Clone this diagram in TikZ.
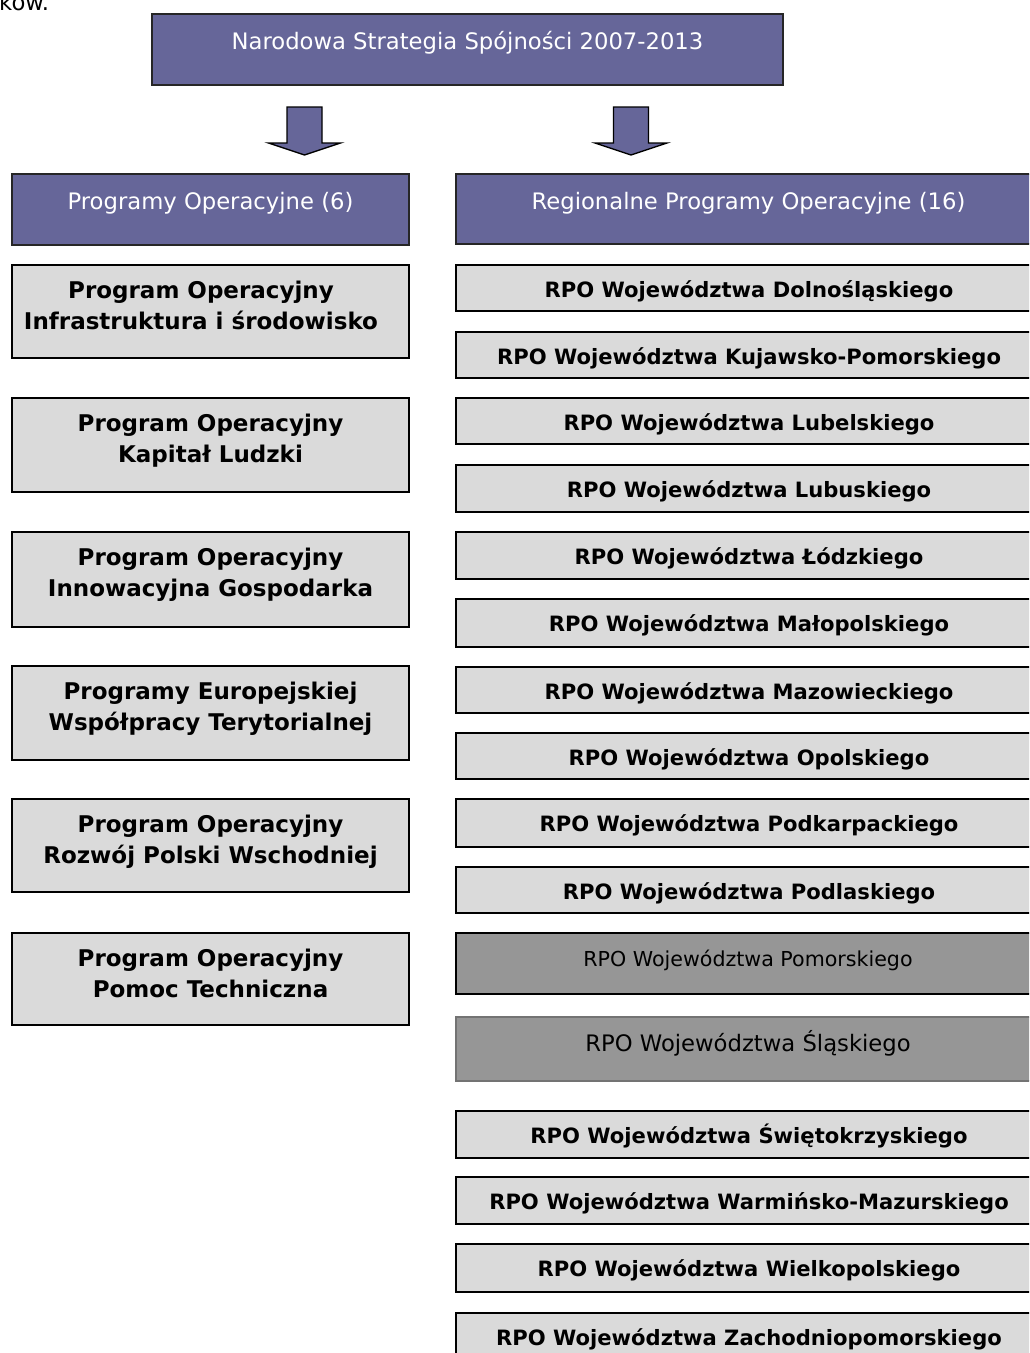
\documentclass[tikz,border=0pt]{standalone}
\usepackage{fontspec}
\setmainfont{DejaVu Sans}
\usetikzlibrary{calc}
\definecolor{purp}{HTML}{666699}
\definecolor{lgrey}{HTML}{DADADA}
\definecolor{dgrey}{HTML}{969696}
\begin{document}
\begin{tikzpicture}[x=1pt,y=-1pt,
  purpbox/.style={draw=black!85, line width=1.5pt, fill=purp, inner sep=0pt},
  lbox/.style={draw=black, line width=1.5pt, fill=lgrey, inner sep=0pt},
  dbox/.style={draw=black, line width=1.5pt, fill=dgrey, inner sep=0pt},
  wtxt/.style={text=white, font=\fontsize{22.7}{27}\selectfont, anchor=base, inner sep=0pt},
  potxt/.style={font=\bfseries\fontsize{23}{27}\selectfont, anchor=base, inner sep=0pt},
  rpotxt/.style={font=\bfseries\fontsize{21.1}{25}\selectfont, anchor=base, inner sep=0pt},
  blockarrow/.style={draw=black, line width=1.3pt, fill=purp, line join=miter}]
\useasboundingbox (0,0) rectangle (1029,1353);
\clip (0,0) rectangle (1029,1353);

% fragment of preceding text line
\node[anchor=base west, inner sep=0pt, font=\fontsize{22.7}{27}\selectfont] (prev) at (-1,10) {ków.};

% top box
\node[purpbox, minimum width=631, minimum height=71] (nss) at (467.5,49.5) {};
\node[wtxt] (nsst) at (467.5,49) {Narodowa Strategia Spójności 2007-2013};

% block arrows
\coordinate (la) at (304.5,107);
\coordinate (ra) at (631,107);
\draw[blockarrow] ($(la)+(-17.5,0)$) -- ($(la)+(17.5,0)$) -- ($(la)+(17.5,36)$) -- ($(la)+(36,36)$)
  -- ($(la)+(0,48)$) -- ($(la)+(-36,36)$) -- ($(la)+(-17.5,36)$) -- cycle;
\draw[blockarrow] ($(ra)+(-17.5,0)$) -- ($(ra)+(17.5,0)$) -- ($(ra)+(17.5,36)$) -- ($(ra)+(36,36)$)
  -- ($(ra)+(0,48)$) -- ($(ra)+(-36,36)$) -- ($(ra)+(-17.5,36)$) -- cycle;

% headers
\node[purpbox, minimum width=397, minimum height=71] (poh) at (210.5,209.5) {};
\node[wtxt] (poht) at (210.5,209.5) {Programy Operacyjne (6)};
\node[purpbox, minimum width=586, minimum height=70] (rpoh) at (749,209) {};
\node[wtxt] (rpoht) at (748.5,209.5) {Regionalne Programy Operacyjne (16)};

% left column
\foreach \n/\t/\b/\cx/\la/\lb in {
  1/265/358/201/{Program Operacyjny}/{Infrastruktura i środowisko},
  2/398/492/210.5/{Program Operacyjny}/{Kapitał Ludzki},
  3/532/627/210.5/{Program Operacyjny}/{Innowacyjna Gospodarka},
  4/666/760/210.5/{Programy Europejskiej}/{Współpracy Terytorialnej},
  5/799/892/210.5/{Program Operacyjny}/{Rozwój Polski Wschodniej},
  6/933/1025/210.5/{Program Operacyjny}/{Pomoc Techniczna}}{
  \node[lbox, minimum width=397, minimum height={\b-\t}] (po\n) at (210.5,{(\t+\b)/2}) {};
  \node[potxt] (po\n a) at (\cx,{\t+33.5}) {\la};
  \node[potxt] (po\n b) at (\cx,{\t+64.5}) {\lb};
}

% right column
\foreach \n/\t/\b/\tx in {
  1/265/311/{RPO Województwa Dolnośląskiego},
  2/332/378/{RPO Województwa Kujawsko-Pomorskiego},
  3/398/444/{RPO Województwa Lubelskiego},
  4/465/512/{RPO Województwa Lubuskiego},
  5/532/579/{RPO Województwa Łódzkiego},
  6/599/647/{RPO Województwa Małopolskiego},
  7/667/713/{RPO Województwa Mazowieckiego},
  8/733/779/{RPO Województwa Opolskiego},
  9/799/847/{RPO Województwa Podkarpackiego},
  10/867/913/{RPO Województwa Podlaskiego},
  13/1111/1158/{RPO Województwa Świętokrzyskiego},
  14/1177/1224/{RPO Województwa Warmińsko-Mazurskiego},
  15/1244/1292/{RPO Województwa Wielkopolskiego},
  16/1313/1360/{RPO Województwa Zachodniopomorskiego}}{
  \node[lbox, minimum width=586, minimum height={\b-\t}] (rpo\n) at (749,{(\t+\b)/2}) {};
  \node[rpotxt] (rpo\n t) at (749,{\t+32.5}) {\tx};
}

\node[dbox, minimum width=586, minimum height=61] (rpo11) at (749,963.5) {};
\node[anchor=base, inner sep=0pt, font=\fontsize{20.6}{25}\selectfont] (rpo11t) at (748,966) {RPO Województwa Pomorskiego};
\node[dbox, draw=black!55, line width=1.2pt, minimum width=586, minimum height=64] (rpo12) at (749,1049) {};
\node[anchor=base, inner sep=0pt, font=\fontsize{22.7}{27}\selectfont] (rpo12t) at (748,1051.5) {RPO Województwa Śląskiego};
\end{tikzpicture}
\end{document}
